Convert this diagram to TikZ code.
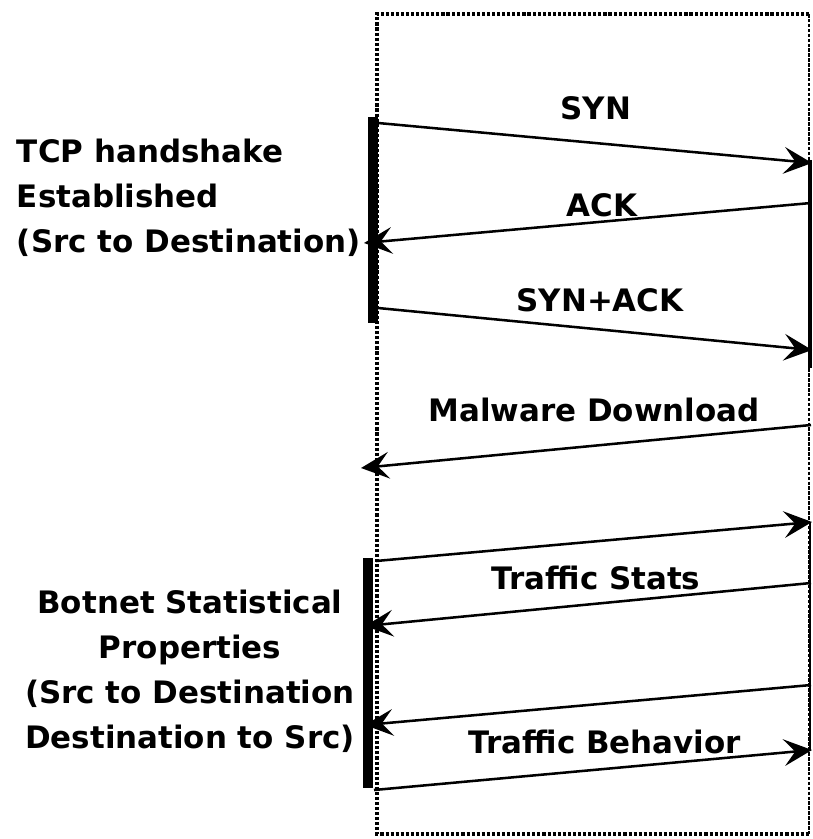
\documentclass[tikz,border=0pt]{standalone}
\usepackage{fontspec}
\setmainfont{DejaVu Sans}
\usetikzlibrary{arrows.meta}
\tikzset{
    msg/.style={-{Stealth[length=20pt, width=19pt, inset=8pt]}, line width=1.8pt},
    msgtext/.style={font=\bfseries\fontsize{22}{32}\selectfont},
    sidetext/.style={font=\bfseries\fontsize{22}{32}\selectfont},
}
\begin{document}
\begin{tikzpicture}[x=0.025cm, y=-0.025cm]
    \useasboundingbox (0,0) rectangle (812,839);
    % frame
    \draw [line width=3pt, dash pattern=on 2.2pt off 1.4pt] (809,14) -- (377,14) -- (377,834) -- (809,834);
    \draw [line width=0.8pt, dash pattern=on 2.5pt off 1pt] (809,14) -- (809,834);
    % activation bars
    \draw [line width=7pt] (373,117) -- (373,323);
    \draw [line width=7pt] (368,558) -- (368,788);
    \draw [line width=3pt] (810,160) -- (810,368);
    \draw [line width=1.6pt] (810,522) -- (810,750);
    % message ends
    \coordinate (syn-a) at (378,123);   \coordinate (syn-b) at (812,163);
    \coordinate (ack-a) at (811,203);   \coordinate (ack-b) at (364,243);
    \coordinate (sa-a) at (378,308);    \coordinate (sa-b) at (812,350);
    \coordinate (mal-a) at (811,425);   \coordinate (mal-b) at (361,468);
    \coordinate (st1-a) at (376,561);   \coordinate (st1-b) at (812,522);
    \coordinate (st2-a) at (811,583);   \coordinate (st2-b) at (365,626);
    \coordinate (bh1-a) at (811,685);   \coordinate (bh1-b) at (365,725);
    \coordinate (bh2-a) at (374,790);   \coordinate (bh2-b) at (812,750);
    \draw [msg] (syn-a) -- (syn-b);
    \draw [msg] (ack-a) -- (ack-b);
    \draw [msg] (sa-a) -- (sa-b);
    \draw [msg] (mal-a) -- (mal-b);
    \draw [msg] (st1-a) -- (st1-b);
    \draw [msg] (st2-a) -- (st2-b);
    \draw [msg] (bh1-a) -- (bh1-b);
    \draw [msg] (bh2-a) -- (bh2-b);
    % labels
    \node [msgtext] (syn) at (596,108) {SYN};
    \node [msgtext] (ack) at (602,205) {ACK};
    \node [msgtext] (sa) at (600,300) {SYN+ACK};
    \node [msgtext] (mal) at (594,410) {Malware Download};
    \node [msgtext] (stats) at (596,578) {Traffic Stats};
    \node [msgtext] (behav) at (605,742) {Traffic Behavior};
    \node [sidetext, anchor=west, align=left] (tcp) at (12,198) {TCP handshake\\Established\\(Src to Destination)};
    \node [sidetext, align=center] (botnet) at (190,671) {Botnet Statistical\\Properties\\(Src to Destination\\Destination to Src)};
\end{tikzpicture}
\end{document}
